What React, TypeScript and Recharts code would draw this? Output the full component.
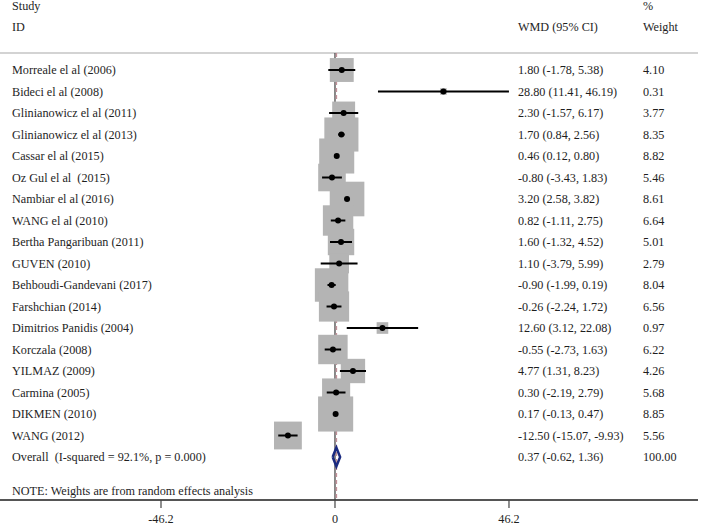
import React from 'react';
import { ComposedChart, XAxis, YAxis, Scatter, ReferenceLine } from 'recharts';

const studies = [
  'Morreale el al (2006)',
  'Bideci el al (2008)',
  'Glinianowicz el al (2011)',
  'Glinianowicz el al (2013)',
  'Cassar el al (2015)',
  'Oz Gul el al  (2015)',
  'Nambiar el al (2016)',
  'WANG el al (2010)',
  'Bertha Pangaribuan (2011)',
  'GUVEN (2010)',
  'Behboudi-Gandevani (2017)',
  'Farshchian (2014)',
  'Dimitrios Panidis (2004)',
  'Korczala (2008)',
  'YILMAZ (2009)',
  'Carmina (2005)',
  'DIKMEN (2010)',
  'WANG (2012)',
];
const wmd = [1.8, 28.8, 2.3, 1.7, 0.46, -0.8, 3.2, 0.82, 1.6, 1.1, -0.9, -0.26, 12.6, -0.55, 4.77, 0.3, 0.17, -12.5];
const lower = [-1.78, 11.41, -1.57, 0.84, 0.12, -3.43, 2.58, -1.11, -1.32, -3.79, -1.99, -2.24, 3.12, -2.73, 1.31, -2.19, -0.13, -15.07];
const upper = [5.38, 46.19, 6.17, 2.56, 0.8, 1.83, 3.82, 2.75, 4.52, 5.99, 0.19, 1.72, 22.08, 1.63, 8.23, 2.79, 0.47, -9.93];
const weight = [4.1, 0.31, 3.77, 8.35, 8.82, 5.46, 8.61, 6.64, 5.01, 2.79, 8.04, 6.56, 0.97, 6.22, 4.26, 5.68, 8.85, 5.56];

const overallLabel = 'Overall  (I-squared = 92.1%, p = 0.000)';
const overallEst = 0.37;
const overallLow = -0.62;
const overallHigh = 1.36;
const overallWeight = 100.0;

const headerRow1 = ['Study', '', '%'];
const headerRow2 = ['ID', 'WMD (95% CI)', 'Weight'];
const noteText = 'NOTE: Weights are from random effects analysis';
const xTicks = [-46.2, 0, 46.2];

// row positions (row index on the y axis)
const HEADER1_ROW = -3;
const HEADER2_ROW = -2;
const HEADER_LINE_ROW = -0.79;
const OVERALL_ROW = studies.length;
const NOTE_ROW = 19.58;
const BOTTOM_ROW = 20;

const X_DOMAIN: [number, number] = [-88.95, 96.39];
const Y_DOMAIN: [number, number] = [-3.256, BOTTOM_ROW];

const FONT = '"Liberation Serif", "Times New Roman", serif';
const FONT_SIZE = 12.2;
const TEXT_COLOR = '#1e1e1e';
const COL_X = [12, 518, 643];

const fmt = (v: number) => v.toFixed(2);

const studyData = studies.map((name, i) => ({ x: wmd[i], y: i, w: weight[i] }));

const textRows: { x: number; y: number; cols: string[] }[] = [
  { x: 0, y: HEADER1_ROW, cols: headerRow1 },
  { x: 0, y: HEADER2_ROW, cols: headerRow2 },
  ...studies.map((name, i) => ({
    x: 0,
    y: i,
    cols: [name, `${fmt(wmd[i])} (${fmt(lower[i])}, ${fmt(upper[i])})`, fmt(weight[i])],
  })),
  {
    x: 0,
    y: OVERALL_ROW,
    cols: [overallLabel, `${fmt(overallEst)} (${fmt(overallLow)}, ${fmt(overallHigh)})`, fmt(overallWeight)],
  },
  { x: 0, y: NOTE_ROW, cols: [noteText, '', ''] },
];

const ciSegments = studies.map((name, i) => [
  { x: lower[i], y: i },
  { x: upper[i], y: i },
]);

const DIAMOND_HALF = 0.44;
const diamondPts = [
  { x: overallLow, y: OVERALL_ROW },
  { x: overallEst, y: OVERALL_ROW - DIAMOND_HALF },
  { x: overallHigh, y: OVERALL_ROW },
  { x: overallEst, y: OVERALL_ROW + DIAMOND_HALF },
  { x: overallLow, y: OVERALL_ROW },
];
const zeroLinePts = [
  { x: 0, y: HEADER_LINE_ROW },
  { x: 0, y: BOTTOM_ROW },
];
const overallLinePts = [
  { x: overallEst, y: HEADER_LINE_ROW },
  { x: overallEst, y: BOTTOM_ROW },
];

const TextRowShape = (props: any) => {
  const { cy, payload } = props;
  const cols: string[] = payload.cols;
  return (
    <g>
      {cols.map((t, k) =>
        t ? (
          <text
            key={k}
            x={COL_X[k]}
            y={cy}
            dy="0.35em"
            textAnchor="start"
            fontFamily={FONT}
            fontSize={FONT_SIZE}
            fill={TEXT_COLOR}
            style={{ whiteSpace: 'pre' }}
          >
            {t}
          </text>
        ) : null
      )}
    </g>
  );
};

const BoxShape = (props: any) => {
  const { cx, cy, payload } = props;
  const s = 11.8 * Math.sqrt(payload.w);
  return <rect x={cx - s / 2} y={cy - s / 2} width={s} height={s} fill="#b4b4b4" />;
};
const DotShape = (props: any) => {
  const { cx, cy } = props;
  return <circle cx={cx} cy={cy} r={3} fill="#000" />;
};
const NoShape = () => <g />;

export default function App() {
  return (
    <div style={{ position: 'absolute', left: 0, top: 0, background: '#fff' }}>
      <ComposedChart width={704} height={526} margin={{ top: 0, right: 6, bottom: 0, left: 0 }}>
        <XAxis
          type="number"
          dataKey="x"
          domain={X_DOMAIN}
          allowDataOverflow
          ticks={xTicks}
          interval={0}
          height={26}
          tickSize={8}
          tickMargin={6}
          axisLine={{ stroke: '#555', strokeWidth: 2 }}
          tickLine={{ stroke: '#444', strokeWidth: 1.2 }}
          tick={{ fontFamily: FONT, fontSize: FONT_SIZE, fill: TEXT_COLOR }}
          tickFormatter={(v: number) => String(v)}
        />
        <YAxis type="number" dataKey="y" domain={Y_DOMAIN} allowDataOverflow reversed hide />
        <ReferenceLine y={HEADER_LINE_ROW} stroke="#c4c4c4" strokeWidth={1.5} />
        <Scatter data={textRows} shape={TextRowShape} isAnimationActive={false} />
        <Scatter
          data={zeroLinePts}
          line={{ stroke: '#3a3a3a', strokeWidth: 1.2 }}
          lineType="joint"
          shape={NoShape}
          isAnimationActive={false}
        />
        <Scatter
          data={overallLinePts}
          line={{ stroke: '#c09098', strokeWidth: 1.5, strokeDasharray: '4 3' }}
          lineType="joint"
          shape={NoShape}
          isAnimationActive={false}
        />
        <Scatter data={studyData} shape={BoxShape} isAnimationActive={false} />
        {ciSegments.map((seg, i) => (
          <Scatter
            key={`ci-${i}`}
            data={seg}
            line={{ stroke: '#000', strokeWidth: 2 }}
            lineType="joint"
            shape={NoShape}
            isAnimationActive={false}
          />
        ))}
        <Scatter data={studyData} shape={DotShape} isAnimationActive={false} />
        <Scatter
          data={diamondPts}
          line={{ stroke: '#1a2a80', strokeWidth: 2.5 }}
          lineType="joint"
          shape={NoShape}
          isAnimationActive={false}
        />
      </ComposedChart>
    </div>
  );
}
